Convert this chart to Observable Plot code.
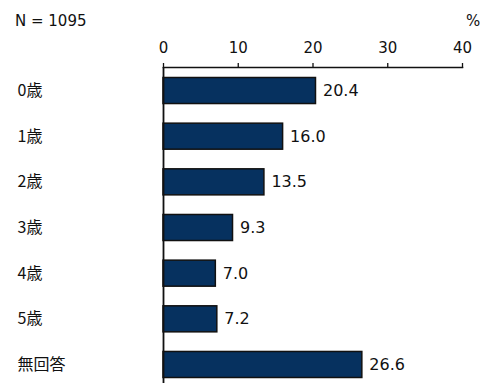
<!DOCTYPE html>
<html>
<head>
<meta charset="utf-8">
<script src="https://cdn.jsdelivr.net/npm/d3@7"></script>
<script src="https://cdn.jsdelivr.net/npm/@observablehq/plot@0.6"></script>
<style>
  html, body { margin: 0; padding: 0; background: #fff; }
  #wrap { position: relative; width: 490px; height: 383px; overflow: hidden; }
  .note { position: absolute; font-family: "DejaVu Sans", sans-serif; font-size: 15px; color: #111; line-height: 1; }
</style>
</head>
<body>
<div id="wrap">
  <div class="note" id="n" style="left:15px; top:14px;">N = 1095</div>
  <div class="note" id="pct" style="left:466px; top:14px;">%</div>
</div>
<script>
const categories = ["0歳", "1歳", "2歳", "3歳", "4歳", "5歳", "無回答"];
const values = [20.4, 16.0, 13.5, 9.3, 7.0, 7.2, 26.6];
const xTicks = [0, 10, 20, 30, 40];

const data = categories.map((c, i) => ({category: c, value: values[i]}));

const chart = Plot.plot({
  width: 490,
  height: 383,
  marginTop: 67,
  marginLeft: 163,
  marginRight: 28,
  marginBottom: 0,
  style: {background: "transparent", color: "#111"},
  x: {domain: [0, 40], ticks: xTicks, axis: null},
  y: {domain: categories, range: [67, 388], paddingInner: 0.43, paddingOuter: 0.23, round: false, axis: null},
  marks: [
    Plot.axisX({anchor: "top", ticks: xTicks, tickSize: 5, tickPadding: 10, label: null,
      fontSize: 15, fontFamily: "DejaVu Sans", strokeWidth: 1.3}),
    Plot.frame({anchor: "top", strokeWidth: 1.5}),
    Plot.axisY({tickSize: 0, tickPadding: 146, textAnchor: "start", label: null,
      fontSize: 16, fontFamily: "Noto Sans CJK JP"}),
    Plot.barX(data, {x: "value", y: "category", fill: "#06315f", stroke: "#111", strokeWidth: 1.5}),
    Plot.ruleX([0], {strokeWidth: 1.8}),
    Plot.text(data, {x: "value", y: "category", text: d => d.value.toFixed(1), textAnchor: "start",
      dx: 7, fontSize: 16, fontFamily: "DejaVu Sans", fill: "#111"})
  ]
});
document.getElementById("wrap").prepend(chart);
</script>
</body>
</html>
